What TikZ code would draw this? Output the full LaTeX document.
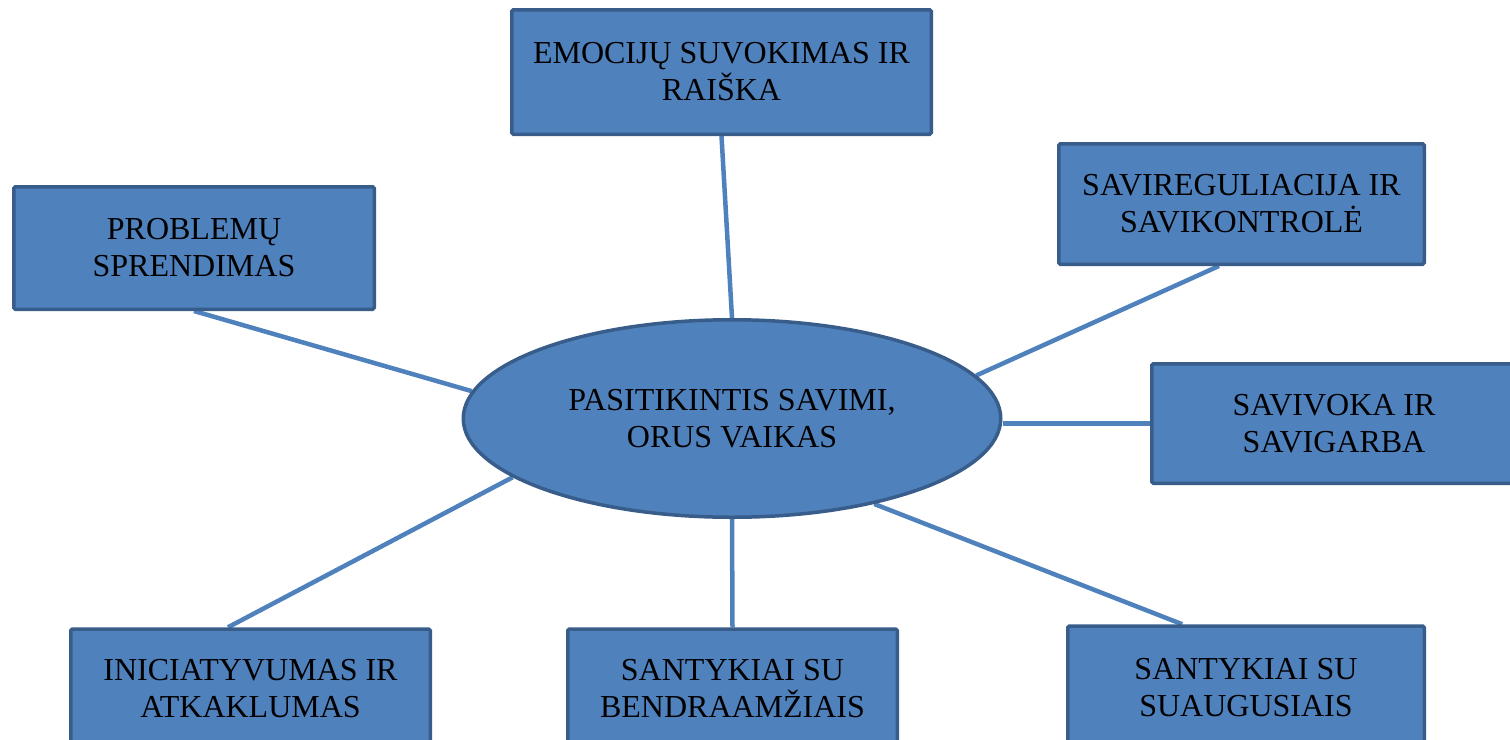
\documentclass[tikz,border=0pt]{standalone}
\usepackage{fontspec}
\setmainfont{Liberation Serif}
\usetikzlibrary{shapes.geometric,backgrounds}

\definecolor{topicfill}{HTML}{4F81BD}
\definecolor{topicedge}{HTML}{385D8A}

\tikzset{
  topic/.style={rectangle, draw=topicedge, fill=topicfill, line width=3.5pt,
    rounded corners=1.5pt, align=center, inner sep=0pt,
    font=\fontsize{32}{37}\selectfont},
  core/.style={ellipse, draw=topicedge, fill=topicfill, line width=3.5pt,
    align=center, inner sep=0pt, minimum width=537.5, minimum height=197.5,
    font=\fontsize{32}{37}\selectfont},
  spoke/.style={draw=topicfill, line width=4.5pt},
}

\begin{document}
\begin{tikzpicture}[x=1pt,y=-1pt]
\useasboundingbox (0,0) rectangle (1510,739);
\clip (0,0) rectangle (1510,739);

% centre
\node[core] (child) at (732,418.5) {PASITIKINTIS SAVIMI,\\ORUS VAIKAS};

% topics round the centre
\node[topic, minimum width=419.5, minimum height=124.5] (emo) at (721.5,72) {EMOCIJŲ SUVOKIMAS IR\\RAIŠKA};
\node[topic, minimum width=360.5, minimum height=122.5] (prob) at (194,248) {PROBLEMŲ\\SPRENDIMAS};
\node[topic, minimum width=365.5, minimum height=120.5] (savireg) at (1241.5,204) {SAVIREGULIACIJA IR\\SAVIKONTROLĖ};
\node[topic, minimum width=364.5, minimum height=119.5] (savivoka) at (1334,423.5) {SAVIVOKA IR\\SAVIGARBA};
% bottom row runs off the page
\node[topic, minimum width=359.5, minimum height=120] (inic) at (250.5,689) {INICIATYVUMAS IR\\ATKAKLUMAS};
\node[topic, minimum width=329.5, minimum height=120] (bendr) at (732.5,689) {SANTYKIAI SU\\BENDRAAMŽIAIS};
\node[topic, minimum width=356.5, minimum height=124] (suaug) at (1246,688) {SANTYKIAI SU\\SUAUGUSIAIS};

\begin{pgfonlayer}{background}
\draw[spoke] (emo.south) -- (child.north);
\draw[spoke] (prob.south) -- (child.174);
\draw[spoke] (savireg.250) -- (child.10);
\draw[spoke] (savivoka.west) -- (savivoka.west -| child.east);
\draw[spoke] (inic.110) -- (child.195);
\draw[spoke] (bendr.north) -- (child.south);
\draw[spoke] (suaug.135) -- (child.329);
\end{pgfonlayer}
\end{tikzpicture}
\end{document}
